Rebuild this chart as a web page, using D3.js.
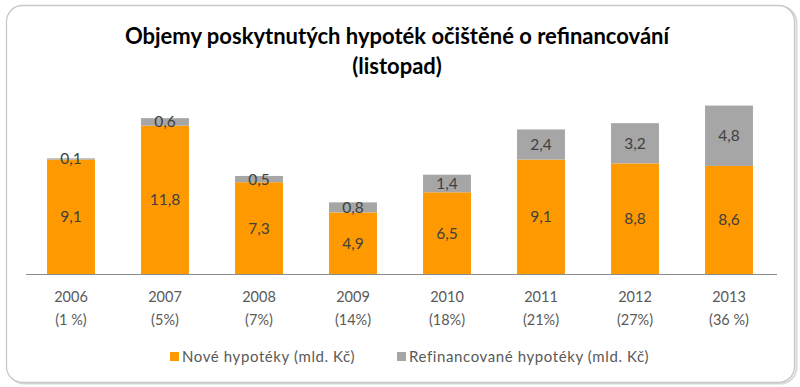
<!DOCTYPE html>
<html><head><meta charset="utf-8">
<script src="https://cdn.jsdelivr.net/npm/d3@7"></script>
<style>body{margin:0;background:#fff}svg{display:block}</style>
</head><body>
<svg id="c" width="800" height="387"></svg>
<script>
const years = ["2006","2007","2008","2009","2010","2011","2012","2013"];
const shares = ["(1 %)","(5%)","(7%)","(14%)","(18%)","(21%)","(27%)","(36 %)"];
const nove = [9.1, 11.8, 7.3, 4.9, 6.5, 9.1, 8.8, 8.6];
const refin = [0.1, 0.6, 0.5, 0.8, 1.4, 2.4, 3.2, 4.8];
const seriesNames = ["Nové hypotéky (mld. Kč)", "Refinancované hypotéky (mld. Kč)"];
const colors = ["#FF9900", "#A6A6A6"];
const titleLines = ["Objemy poskytnutých hypoték očištěné o refinancování", "(listopad)"];

const svg = d3.select("#c");
const font = "Lato, 'Open Sans', sans-serif";

// frame
svg.append("rect").attr("x",8.5).attr("y",6.5).attr("width",788).attr("height",377).attr("rx",16)
  .attr("fill","none").attr("stroke","#d9d9d9").attr("stroke-width",2);
svg.append("rect").attr("x",6.5).attr("y",5.5).attr("width",788).attr("height",377).attr("rx",16)
  .attr("fill","#fff").attr("stroke","#c8c8c8").attr("stroke-width",1.3);

// title
svg.append("g").selectAll("text").data(titleLines).join("text")
  .attr("x",397).attr("y",(d,i)=>44+i*30)
  .attr("text-anchor","middle").attr("font-family",font).attr("font-weight","bold")
  .attr("font-size",22).attr("fill","#000").text(d=>d);

const x = d3.scaleBand().domain(years).range([24,776]).paddingInner(0.49).paddingOuter(0.245);
const y = d3.scaleLinear().domain([0,14]).range([274, 274-14*12.57]);

const data = years.map((yr,i)=>({year:yr, nove:nove[i], refin:refin[i]}));
const stack = d3.stack().keys(["nove","refin"])(data);

const g = svg.append("g");
stack.forEach((s,si)=>{
  g.append("g").selectAll("rect").data(s).join("rect")
    .attr("x",d=>x(d.data.year)).attr("width",x.bandwidth())
    .attr("y",d=>y(d[1])).attr("height",d=>y(d[0])-y(d[1]))
    .attr("fill",colors[si]);
  g.append("g").selectAll("text").data(s).join("text")
    .attr("x",d=>x(d.data.year)+x.bandwidth()/2)
    .attr("y",d=>si===1 && (d[1]-d[0])<0.3 ? y(d[1])+5.5 : (y(d[0])+y(d[1]))/2+5.5)
    .attr("text-anchor","middle").attr("font-family",font).attr("font-size",15.5)
    .attr("fill","#404040")
    .text(d=>d3.format(".1f")(d[1]-d[0]).replace(".",","));
});

// axis
const ax = svg.append("g").attr("transform","translate(0,274)")
  .call(d3.axisBottom(x).tickSize(0).tickPadding(0).tickFormat(""));
ax.select(".domain").attr("stroke","#8c8c8c").attr("stroke-width",1.2).attr("d","M26,0.5H777");
ax.selectAll(".tick text").each(function(d,i){
  const t = d3.select(this).attr("font-family",font).attr("font-size",14.5).attr("fill","#595959").attr("y",0).attr("dy",null);
  t.append("tspan").attr("x",0).attr("y",28).text(d);
  t.append("tspan").attr("x",0).attr("y",51).text(shares[years.indexOf(d)]);
});

// legend
const lg = svg.append("g").attr("font-family",font).attr("font-size",15).attr("letter-spacing",0.6).attr("fill","#595959");
const legX = [170, 397];
seriesNames.forEach((n,i)=>{
  lg.append("rect").attr("x",legX[i]).attr("y",352).attr("width",9).attr("height",9).attr("fill",colors[i]);
  lg.append("text").attr("x",legX[i]+12).attr("y",362).text(n);
});
</script>
</body></html>
